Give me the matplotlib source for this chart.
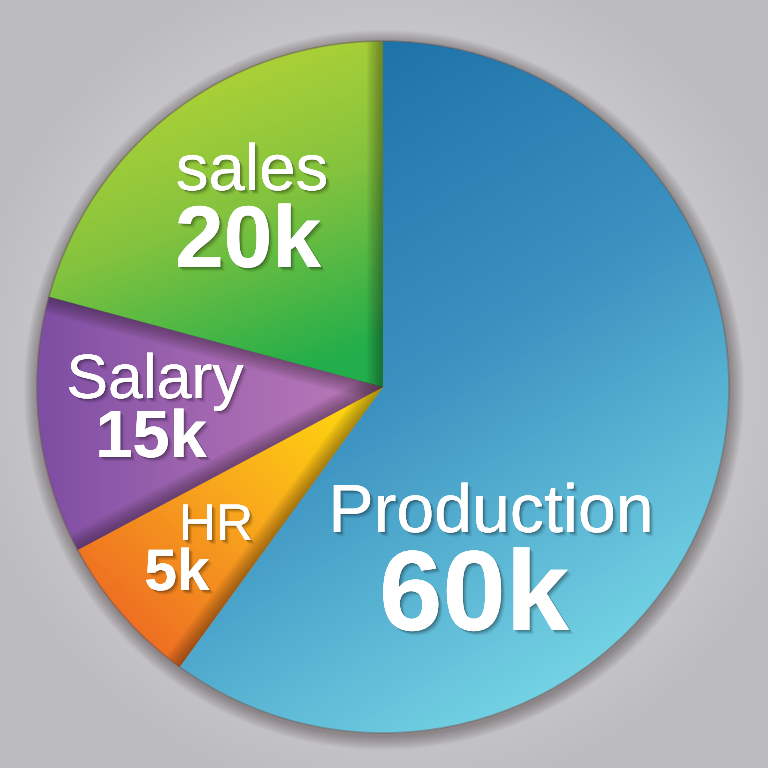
import numpy as np
import matplotlib
matplotlib.use('Agg')
import matplotlib.pyplot as plt
from matplotlib import patheffects as pe
from matplotlib.colors import LinearSegmentedColormap
from matplotlib.patches import Circle

# ---- data ----
categories = ['Production', 'HR', 'Salary', 'sales']
value_labels = ['60k', '5k', '15k', '20k']
slice_shares = [60.0, 7.2, 12.0, 20.8]   # angular share of each wedge as drawn

W = 768
fig = plt.figure(figsize=(7.68, 7.68), dpi=100)
ax = fig.add_axes([0, 0, 1, 1])

# background radial gradient
gy, gx = np.mgrid[0:W:2, 0:W:2] + 1.0
rr = np.hypot((gx - 390) / 430, (gy - 390) / 430)
bg_cmap = LinearSegmentedColormap.from_list('bg', ['#e6e5e7', '#d6d5d8', '#bcbcc0'])
ax.imshow(np.clip(rr, 0, 1), cmap=bg_cmap, extent=(0, W, 0, W), origin='lower',
          vmin=0, vmax=1, zorder=0, interpolation='bilinear')

cx, cy, R = 383, 381, 346

# soft outer shadow
for k in range(14, 0, -1):
    ax.add_patch(Circle((cx + 1, cy - 3), R + k, facecolor='#3a2a2a',
                        edgecolor='none', alpha=0.03, zorder=1))

wedges, _ = ax.pie(slice_shares, startangle=90, counterclock=False,
                   center=(cx, cy), radius=R,
                   wedgeprops=dict(linewidth=0))
for w in wedges:
    w.set_zorder(2)

ax.set_xlim(0, W)
ax.set_ylim(0, W)
ax.set_aspect('equal')
ax.axis('off')

fy, fx = np.mgrid[0:W:1.0, 0:W:1.0] + 0.5


def grad_fill(wedge, p0, p1, colors):
    cmap = LinearSegmentedColormap.from_list('g', colors)
    d = np.array(p1, float) - np.array(p0, float)
    t = ((fx - p0[0]) * d[0] + (fy - p0[1]) * d[1]) / (d @ d)
    t = np.clip(t, 0, 1)
    im = ax.imshow(t, cmap=cmap, extent=(0, W, 0, W), origin='lower',
                   vmin=0, vmax=1, zorder=3, interpolation='bilinear')
    im.set_clip_path(wedge)
    wedge.set_facecolor(colors[-1])


grad_fill(wedges[0], (300, 720), (660, 140), ['#1a70a6', '#3b91c0', '#74d3e4'])
grad_fill(wedges[1], (383, 381), (140, 120), ['#ffe00c', '#f9aa1c', '#ee6c23'])
grad_fill(wedges[2], (40, 381), (383, 381), ['#7e4ea3', '#a267b0', '#bb7bb9'])
grad_fill(wedges[3], (220, 740), (340, 410), ['#b8d534', '#84c33e', '#22ae4a'])

# boundary shadows (shadow falls into the given wedge)
cum = np.cumsum([0] + slice_shares)
angles = 90 - cum / cum[-1] * 360
shadow_spec = [(angles[0], 3), (angles[1], 1), (angles[2], 2), (angles[3], 2)]
for ang, wi in shadow_spec:
    a = np.deg2rad(ang)
    xs = [cx, cx + (R + 5) * np.cos(a)]
    ys = [cy, cy + (R + 5) * np.sin(a)]
    for lw in range(2, 26, 2):
        ln, = ax.plot(xs, ys, color='#1a1010', lw=lw, alpha=0.035, zorder=4,
                      solid_capstyle='butt')
        ln.set_clip_path(wedges[wi])

# thin rim
ax.add_patch(Circle((cx, cy), R, facecolor='none', edgecolor='#6e5050',
                    lw=1.2, alpha=0.45, zorder=5))

# labels
shadow = [pe.withSimplePatchShadow(offset=(1, -1), shadow_rgbFace='#000000', alpha=0.18),
          pe.withSimplePatchShadow(offset=(2, -2), shadow_rgbFace='#000000', alpha=0.14),
          pe.withSimplePatchShadow(offset=(3, -3), shadow_rgbFace='#000000', alpha=0.08),
          pe.Normal()]
font = 'Liberation Sans'


def label(x, y_img, s, size, weight):
    ax.text(x, W - y_img, s, ha='center', va='baseline', color='white',
            fontsize=size, fontweight=weight, family=font, zorder=6,
            path_effects=shadow)


label(491, 532, categories[0], 49, 'normal')
label(474, 630, value_labels[0], 82, 'bold')
label(216, 540, categories[1], 37, 'normal')
label(177, 590, value_labels[1], 42, 'bold')
label(155, 398, categories[2], 45, 'normal')
label(151, 457, value_labels[2], 48, 'bold')
label(252, 190, categories[3], 47, 'normal')
label(248, 267, value_labels[3], 63, 'bold')

fig.savefig('out.png', dpi=100)
